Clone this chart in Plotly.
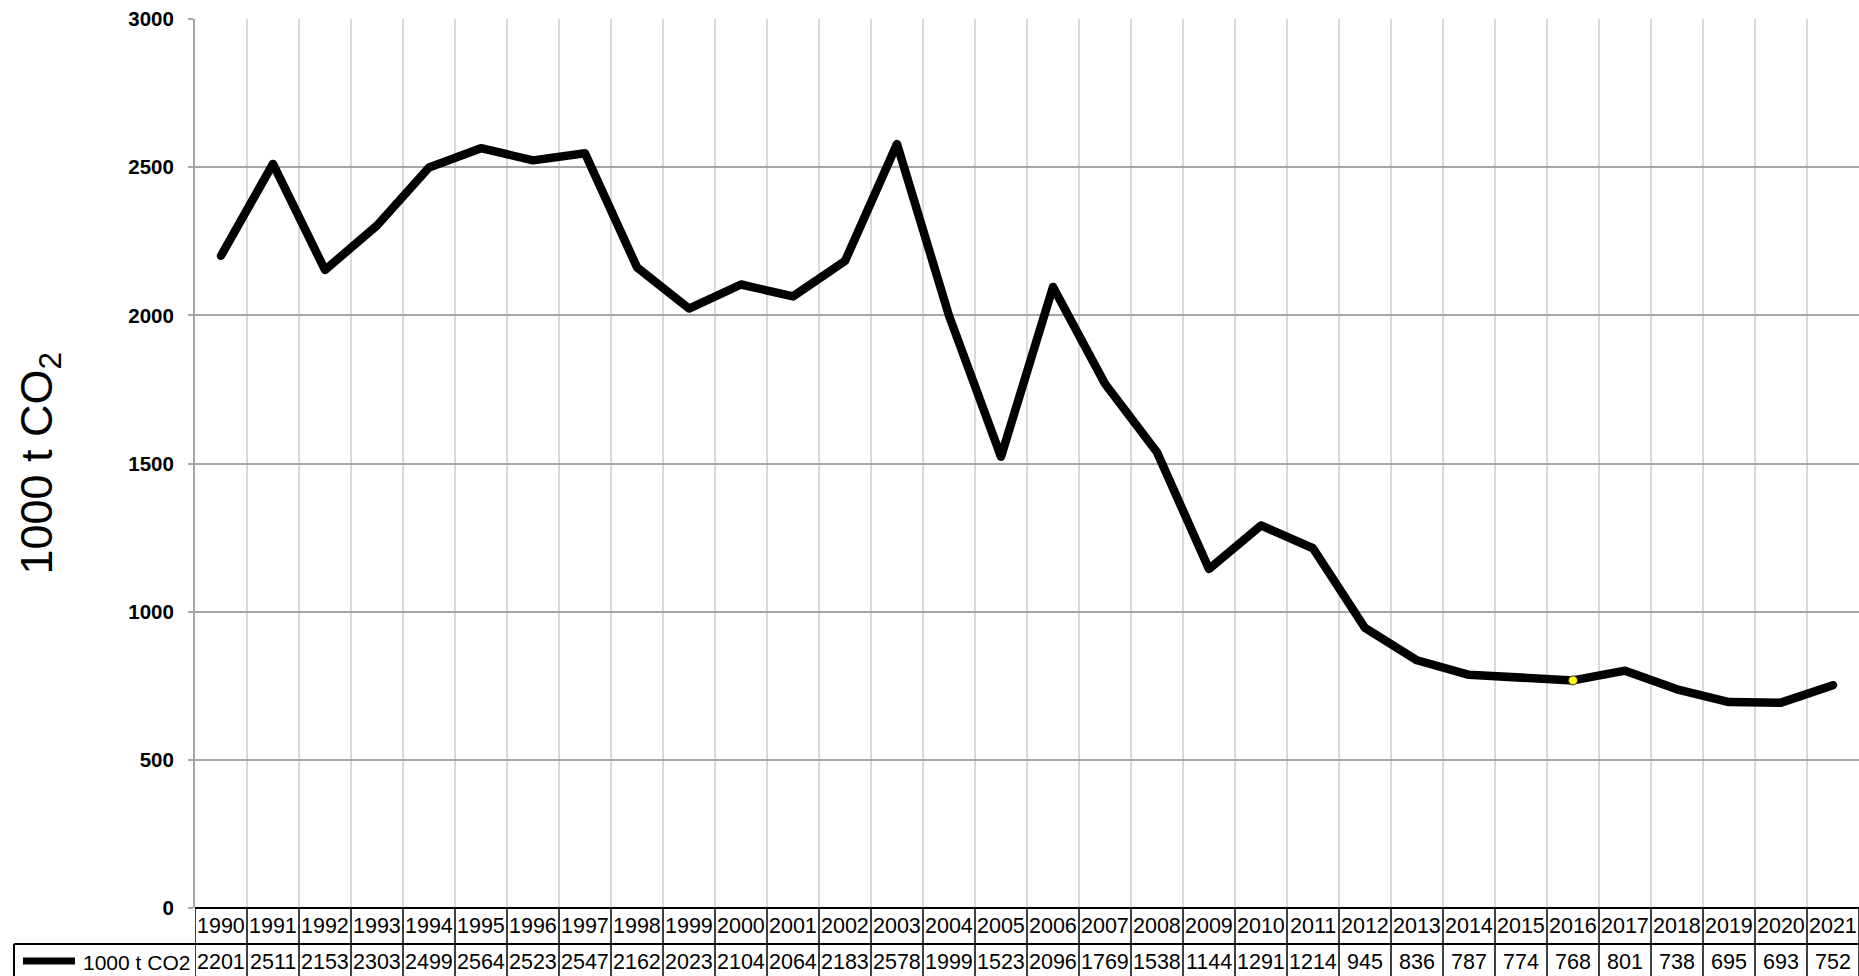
import plotly.graph_objects as go

# ---- data ----
years = [1990, 1991, 1992, 1993, 1994, 1995, 1996, 1997, 1998, 1999, 2000,
         2001, 2002, 2003, 2004, 2005, 2006, 2007, 2008, 2009, 2010, 2011,
         2012, 2013, 2014, 2015, 2016, 2017, 2018, 2019, 2020, 2021]
co2 = [2201, 2511, 2153, 2303, 2499, 2564, 2523, 2547, 2162, 2023, 2104,
       2064, 2183, 2578, 1999, 1523, 2096, 1769, 1538, 1144, 1291, 1214,
       945, 836, 787, 774, 768, 801, 738, 695, 693, 752]
series_name = "1000 t CO2"
highlight_year = 2016
y_ticks = [0, 500, 1000, 1500, 2000, 2500, 3000]

# ---- layout geometry (pixels) ----
W, H = 1859, 976
L, R, T, B = 195, 0, 19, 68
PW = W - L - R
PH = H - T - B
ROW = 36  # table row height in px

def py(px_below):  # px below plot bottom -> paper y
    return -px_below / PH

def px_x(px):  # absolute px -> paper x
    return (px - L) / PW

FONT = "Liberation Sans, Arial, sans-serif"

fig = go.Figure()
fig.add_trace(go.Scatter(
    x=years, y=co2, mode="lines", name=series_name,
    line=dict(color="black", width=8.5), showlegend=False,
    hoverinfo="x+y"))
hi = years.index(highlight_year)
fig.add_trace(go.Scatter(
    x=[years[hi]], y=[co2[hi]], mode="markers", showlegend=False,
    marker=dict(color="#ffff00", size=9, line=dict(color="#333333", width=1)),
    hoverinfo="skip"))

shapes = []
annotations = []
x0 = years[0] - 0.5
x1 = years[-1] + 0.5
# table horizontal borders
shapes.append(dict(type="line", xref="x", yref="paper", x0=x0, x1=x1, y0=0, y1=0,
                   line=dict(color="black", width=2)))
shapes.append(dict(type="line", xref="paper", yref="paper", x0=px_x(14), x1=1.0,
                   y0=py(ROW), y1=py(ROW), line=dict(color="black", width=2)))
shapes.append(dict(type="line", xref="paper", yref="paper", x0=px_x(14), x1=1.0,
                   y0=py(2 * ROW), y1=py(2 * ROW), line=dict(color="black", width=2)))
# vertical borders
for i in range(len(years) + 1):
    xb = years[0] - 0.5 + i
    shapes.append(dict(type="line", xref="x", yref="paper", x0=xb, x1=xb,
                       y0=0, y1=py(2 * ROW), line=dict(color="black", width=1.5)))
shapes.append(dict(type="line", xref="paper", yref="paper", x0=px_x(14), x1=px_x(14),
                   y0=py(ROW), y1=py(2 * ROW), line=dict(color="black", width=2)))
# legend key line
shapes.append(dict(type="line", xref="paper", yref="paper", x0=px_x(23), x1=px_x(75),
                   y0=py(ROW * 1.5 - 1), y1=py(ROW * 1.5 - 1),
                   line=dict(color="black", width=7)))

for yr, v in zip(years, co2):
    annotations.append(dict(x=yr, y=py(ROW / 2), xref="x", yref="paper",
                            text=str(yr), showarrow=False, xanchor="center", yanchor="middle",
                            font=dict(family=FONT, size=21.5, color="black")))
    annotations.append(dict(x=yr, y=py(ROW * 1.5), xref="x", yref="paper",
                            text=str(v), showarrow=False, xanchor="center", yanchor="middle",
                            font=dict(family=FONT, size=21.5, color="black")))
annotations.append(dict(x=px_x(192), y=py(ROW * 1.5), xref="paper", yref="paper",
                        text=series_name, showarrow=False, xanchor="right", yanchor="middle",
                        font=dict(family=FONT, size=21, color="black")))
annotations.append(dict(x=px_x(39), y=0.5, xref="paper", yref="paper",
                        text="1000 t CO<sub>2</sub>", showarrow=False, textangle=-90,
                        xanchor="center", yanchor="middle",
                        font=dict(family=FONT, size=45, color="black")))

fig.update_layout(
    width=W, height=H,
    margin=dict(l=L, r=R, t=T, b=B, pad=0),
    paper_bgcolor="white", plot_bgcolor="white",
    font=dict(family=FONT, color="black"),
    shapes=shapes, annotations=annotations,
    showlegend=False,
    xaxis=dict(range=[x0, x1], tickvals=[years[0] - 0.5 + i for i in range(len(years) + 1)],
               showticklabels=False, ticks="", showgrid=True, gridcolor="#d9d9d9",
               gridwidth=2, zeroline=False, showline=False, fixedrange=True),
    yaxis=dict(range=[0, 3000], tickvals=y_ticks, showgrid=True, gridcolor="#a6a6a6",
               gridwidth=2, zeroline=False, showline=True, linecolor="#a6a6a6", linewidth=2,
               ticks="outside", ticklen=5, tickcolor="#a6a6a6", tickwidth=2,
               ticklabelstandoff=10,
               tickfont=dict(family=FONT, size=20.5, color="black", weight="bold"),
               fixedrange=True),
)

post = """
document.body.style.margin='0';
document.body.style.padding='0';
document.body.style.overflow='hidden';
document.querySelectorAll('.scatterlayer path.js-line').forEach(function(p){
  p.style.strokeLinejoin='round'; p.style.strokeLinecap='round';
});
"""
fig.write_html("out.html", post_script=post, config={"displayModeBar": False})
